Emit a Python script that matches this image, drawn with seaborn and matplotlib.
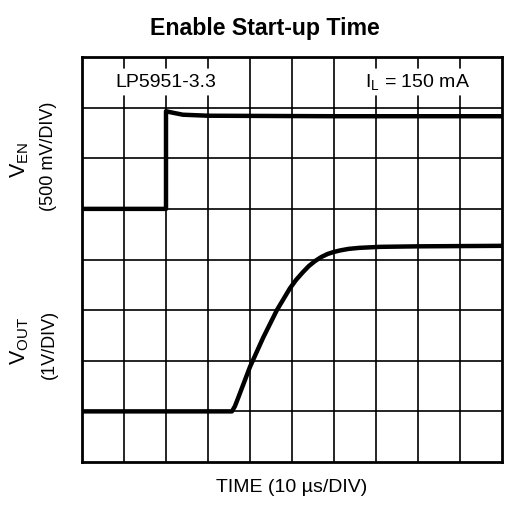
import matplotlib
matplotlib.use("Agg")
import matplotlib.pyplot as plt
import seaborn as sns
import pandas as pd

# Traces: time in us, level in screen divisions (0 = bottom)
t_en = [0, 20, 20, 21, 24, 30, 60, 100]
v_en = [5.0, 5.0, 6.93, 6.91, 6.86, 6.84, 6.83, 6.83]

t_out = [0, 35.7, 36.4, 37.2, 40, 43.1, 46.4, 49.5, 51, 52.6, 54, 55.5, 57, 58.5, 60,
         61.5, 63.5, 66, 71, 80, 100]
v_out = [1.0, 1.0, 1.1, 1.27, 1.88, 2.45, 3.0, 3.43, 3.6, 3.75, 3.87, 3.97, 4.05, 4.11, 4.15,
         4.18, 4.21, 4.23, 4.25, 4.26, 4.27]

x_divs = list(range(0, 101, 10))
y_divs = list(range(0, 9))
full_top_lines = [40, 50, 60]   # grid lines that run through the label row

sns.set_style("white")
plt.rcParams['font.family'] = ['Liberation Sans', 'DejaVu Sans']
plt.rcParams['mathtext.default'] = 'regular'
plt.rcParams['text.color'] = 'black'

fig = plt.figure(figsize=(5.06, 5.08), dpi=100)
ax = fig.add_axes([82 / 506, 1 - 462 / 508, 420 / 506, 405 / 508])

# scope graticule
grid_kw = dict(color='black', linewidth=1.2, zorder=1)
for yv in y_divs[1:-1]:
    ax.axhline(yv, **grid_kw)
for xv in x_divs[1:-1]:
    ax.plot([xv, xv], [0, 7], **grid_kw)
    if xv in full_top_lines:
        ax.plot([xv, xv], [7, 8], **grid_kw)
    else:
        ax.plot([xv, xv], [7.78, 8], **grid_kw)
        ax.plot([xv, xv], [7, 7.22], **grid_kw)

df_en = pd.DataFrame({'t': t_en, 'v': v_en})
df_out = pd.DataFrame({'t': t_out, 'v': v_out})
sns.lineplot(data=df_en, x='t', y='v', estimator=None, sort=False,
             color='black', linewidth=3.2, ax=ax, zorder=3)
sns.lineplot(data=df_out, x='t', y='v', estimator=None, sort=False,
             color='black', linewidth=3.2, ax=ax, zorder=3)

ax.set_xlim(0, 100)
ax.set_ylim(0, 8)
ax.set_xticks([])
ax.set_yticks([])
ax.set_xlabel('')
ax.set_ylabel('')
for sp in ax.spines.values():
    sp.set_visible(True)
    sp.set_color('black')
    sp.set_linewidth(2.0)

ax.text(20, 7.5, 'LP5951-3.3', ha='center', va='center', fontsize=14)
ax.text(80, 7.5, '$I_L$ = 150 mA', ha='center', va='center', fontsize=14)

fig.text(265 / 506, 1 - 28 / 508, 'Enable Start-up Time', ha='center', va='center',
         fontsize=16.7, fontweight='bold')
fig.text(292 / 506, 1 - 488 / 508, 'TIME (10 µs/DIV)', ha='center', va='center', fontsize=14)

fig.text(20 / 506, 1 - 160 / 508, '$V_{EN}$', rotation=90, ha='center', va='center', fontsize=15.5)
fig.text(49 / 506, 1 - 156 / 508, '(500 mV/DIV)', rotation=90, ha='center', va='center', fontsize=13)
fig.text(20 / 506, 1 - 341 / 508, '$V_{OUT}$', rotation=90, ha='center', va='center', fontsize=15.5)
fig.text(49 / 506, 1 - 344 / 508, '(1V/DIV)', rotation=90, ha='center', va='center', fontsize=13)

fig.savefig('out.png', dpi=100, facecolor='white')
